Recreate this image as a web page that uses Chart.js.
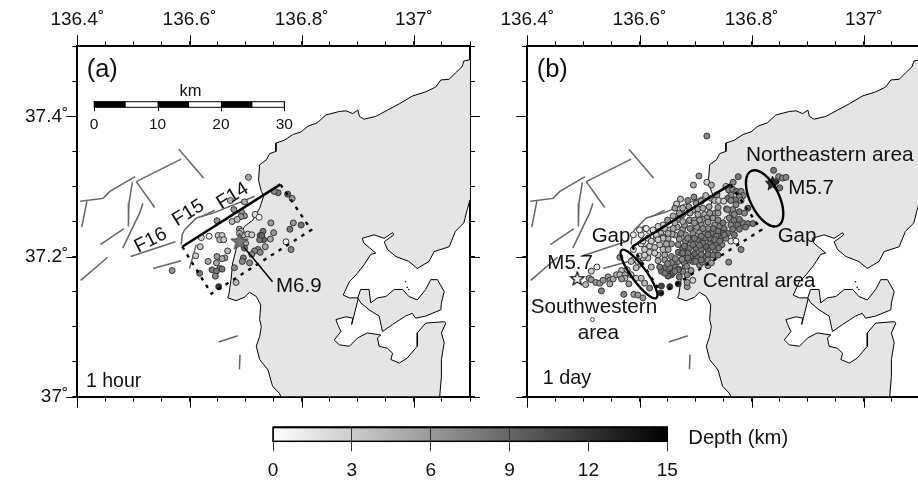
<!DOCTYPE html>
<html><head><meta charset="utf-8">
<style>html,body{margin:0;padding:0;background:#fff;overflow:hidden;width:918px;height:484px}
canvas{position:absolute}#w{position:absolute;left:0;top:0;width:918px;height:484px;overflow:hidden}</style>
<script src="https://cdn.jsdelivr.net/npm/chart.js@4/dist/chart.umd.min.js"></script>
</head><body><div id="w">
<canvas id="pa" width="480" height="430" style="left:0;top:0"></canvas>
<canvas id="pb" width="480" height="430" style="left:450px;top:0"></canvas>
<canvas id="cb" width="600" height="74" style="left:240px;top:410px"></canvas>
</div>
<script>
const lonTicks=[136.4,136.6,136.8,137];
const lonLabels=['136.4˚','136.6˚','136.8˚','137˚'];
const latTicks=[37,37.2,37.4];
const latLabels=['37˚','37.2˚','37.4˚'];
const depthTicks=[0,3,6,9,12,15];

const landLon=[137.1,137.089,137.086,137.074,137.063,137.048,137.039,137.021,136.997,136.974,136.953,136.932,136.911,136.903,136.900,136.891,136.879,136.867,136.843,136.828,136.811,136.799,136.784,136.769,136.754,136.754,136.743,136.737,136.725,136.723,136.728,136.732,136.725,136.713,136.698,136.692,136.683,136.677,136.674,136.670,136.668,136.683,136.698,136.707,136.719,136.727,136.725,136.728,136.725,136.719,136.725,136.740,136.748,136.760,136.763,137.046,137.049,137.049,137.054,137.049,137.057,137.054,137.021,137.006,137.006,136.988,136.974,136.959,136.962,136.953,136.938,136.935,136.941,136.917,136.900,136.885,136.867,136.858,136.870,136.864,136.861,136.879,136.891,136.889,136.892,136.898,136.901,136.885,136.874,136.885,136.897,136.911,136.923,136.932,136.911,136.908,136.929,136.947,136.962,136.964,136.947,136.953,136.968,136.991,137.006,137.027,137.036,137.063,137.074,137.089,137.095,137.1];
const landLat=[37.481,37.479,37.471,37.462,37.453,37.452,37.442,37.435,37.429,37.418,37.409,37.400,37.396,37.400,37.409,37.404,37.408,37.407,37.402,37.391,37.386,37.378,37.374,37.366,37.362,37.350,37.347,37.338,37.331,37.309,37.293,37.286,37.269,37.252,37.243,37.233,37.210,37.191,37.167,37.145,37.141,37.137,37.142,37.149,37.143,37.131,37.110,37.100,37.086,37.072,37.053,37.038,37.015,37.005,37.0,37.0,37.029,37.053,37.077,37.091,37.105,37.107,37.105,37.091,37.072,37.055,37.048,37.053,37.062,37.069,37.072,37.084,37.088,37.091,37.084,37.072,37.074,37.081,37.093,37.103,37.110,37.114,37.112,37.103,37.112,37.131,37.141,37.141,37.145,37.164,37.174,37.188,37.203,37.205,37.219,37.226,37.231,37.226,37.234,37.231,37.221,37.210,37.200,37.193,37.183,37.193,37.207,37.214,37.236,37.248,37.267,37.281];
const islandLon=[136.900,136.905,136.920,136.923,136.935,136.950,136.965,136.980,136.991,137.006,137.021,137.030,137.042,137.054,137.049,137.048,137.021,137.003,136.997,136.985,136.962,136.944,136.938,136.920,136.905];
const islandLat=[37.141,37.153,37.153,37.134,37.141,37.143,37.153,37.153,37.143,37.138,37.153,37.167,37.167,37.150,37.134,37.124,37.115,37.112,37.119,37.115,37.103,37.093,37.115,37.124,37.134];
const isletLon=[136.985,136.988,136.991];
const isletLat=[37.164,37.156,37.153];

const faultLons=[[136.405,136.446,136.458,136.503],[136.417,136.408],[136.505,136.585],[136.581,136.625],[136.498,136.492,136.491],[136.505,136.538],[136.517,136.511,136.481],[136.441,136.483],[136.406,136.454],[136.495,136.575],[136.535,136.585],[136.585,136.587,136.591,136.612,136.642,136.701,136.716],[136.621,136.645],[136.600,136.612],[136.652,136.686],[136.690,136.689]];
const faultLats=[[37.279,37.283,37.293,37.314],[37.279,37.242],[37.307,37.339],[37.353,37.312],[37.306,37.276,37.243],[37.307,37.270],[37.276,37.262,37.212],[37.217,37.240],[37.166,37.199],[37.200,37.221],[37.183,37.194],[37.217,37.231,37.238,37.255,37.262,37.281,37.286],[37.257,37.266],[37.183,37.217],[37.078,37.087],[37.060,37.039]];
const ruptureLon=[136.587,136.762];
const ruptureLat=[37.214,37.303];
const boxLon=[136.587,136.639,136.817,136.762];
const boxLat=[37.214,37.147,37.238,37.303];
const leaderLon=[136.689,136.748];
const leaderLat=[37.221,37.164];

const aLon=[136.705,136.673,136.698,136.679,136.693,136.698,136.692,136.717,136.724,136.649,136.676,136.685,136.689,136.745,136.785,136.799,136.779,136.621,136.635,136.651,136.658,136.654,136.661,136.619,136.611,136.696,136.704,136.711,136.692,136.731,136.726,136.732,136.725,136.729,136.750,136.744,136.735,136.772,136.781,136.758,136.751,136.775,136.783,136.668,136.663,136.649,136.658,136.633,136.648,136.640,136.654,136.658,136.648,136.646,136.618,136.652,136.683,136.569,136.700,136.698,136.680,136.696,136.694,136.707,136.722,136.716,136.726,136.711,136.689];
const aLat=[37.313,37.280,37.278,37.267,37.263,37.258,37.257,37.260,37.256,37.251,37.250,37.253,37.239,37.248,37.248,37.245,37.239,37.227,37.229,37.230,37.230,37.224,37.224,37.214,37.201,37.231,37.232,37.231,37.236,37.236,37.230,37.224,37.224,37.230,37.234,37.225,37.214,37.221,37.210,37.291,37.293,37.289,37.283,37.208,37.198,37.200,37.197,37.193,37.191,37.181,37.183,37.182,37.179,37.172,37.176,37.157,37.163,37.180,37.219,37.212,37.184,37.198,37.193,37.191,37.210,37.208,37.206,37.203,37.233];
const aDepth=[5,4,5,6,6,6,6,2,0,6,4,4,5,6,6,8,8,2,1,3,3,4,3,3,3,4,3,3,4,8,9,9,8,9,6,5,5,0,7,8,7,9,6,4,5,6,5,5,5,8,7,8,8,7,8,12,4,6,5,7,7,8,7,7,7,7,7,7,4];

const bLon=[136.720,136.706,136.696,136.720,136.728,136.776,136.767,136.754,136.759,136.766,136.773,136.781,136.785,136.778,136.763,136.771,136.757,136.781,136.763,136.772,136.793,136.673,136.666,136.686,136.697,136.663,136.677,136.688,136.701,136.710,136.718,136.728,136.738,136.734,136.741,136.750,136.695,136.704,136.713,136.724,136.677,136.688,136.704,136.716,136.669,136.650,136.642,136.633,136.654,136.645,136.638,136.618,136.603,136.589,136.720,136.731,136.722,136.710,136.734,136.756,136.743,136.763,136.751,136.775,136.784,136.793,136.802,136.766,136.778,136.789,136.667,136.677,136.690,136.702,136.682,136.695,136.707,136.716,136.728,136.740,136.749,136.757,136.769,136.737,136.725,136.716,136.746,136.754,136.763,136.772,136.671,136.663,136.651,136.657,136.669,136.682,136.692,136.704,136.713,136.725,136.737,136.747,136.677,136.689,136.701,136.710,136.722,136.734,136.781,136.759,136.603,136.618,136.627,136.636,136.648,136.609,136.618,136.633,136.645,136.633,136.645,136.657,136.669,136.680,136.692,136.704,136.716,136.722,136.707,136.695,136.680,136.669,136.657,136.645,136.654,136.639,136.651,136.657,136.671,136.685,136.692,136.677,136.651,136.639,136.654,136.669,136.685,136.695,136.685,136.621,136.615,136.606,136.600,136.589,136.594,136.565,136.674,136.686,136.698,136.710,136.722,136.734,136.743,136.751,136.680,136.695,136.707,136.719,136.730,136.741,136.686,136.698,136.710,136.722,136.675,136.664,136.676,136.688,136.700,136.712,136.664,136.650,136.636,136.660,136.645,136.670,136.684,136.700,136.690,136.712,136.680,136.658,136.642,136.630,136.625,136.610,136.660,136.690,136.740,136.755,136.765,136.760,136.768,136.778,136.735,136.725,136.588,136.597,136.585,136.524,136.514,136.510,136.504,136.514,136.522,136.529,136.535,136.544,136.547,136.553,136.559,136.568,136.565,136.578,136.574,136.532,136.547,136.574,136.581,136.572,136.590,136.597,136.606,136.568,136.585,136.594,136.603,136.609,136.618,136.638,136.839,136.848,136.855,136.861,136.850,136.843,136.834,136.606,136.615,136.630,136.621,136.642,136.633,136.627,136.609,136.642,136.651,136.651,136.660,136.624,136.612,136.600,136.663,136.677,136.689,136.698,136.671,136.707,136.740,136.766,136.778,136.787,136.769,136.757,136.740,136.749,136.731,136.722,136.713,136.698,136.677,136.686,136.710,136.722,136.731,136.740,136.728,136.669,136.663];
const bLat=[37.372,37.315,37.302,37.306,37.302,37.314,37.306,37.300,37.295,37.296,37.293,37.293,37.287,37.285,37.288,37.281,37.283,37.280,37.280,37.274,37.269,37.282,37.275,37.280,37.285,37.269,37.269,37.271,37.276,37.279,37.287,37.283,37.288,37.280,37.280,37.279,37.266,37.268,37.269,37.271,37.260,37.263,37.260,37.260,37.253,37.252,37.245,37.243,37.238,37.240,37.233,37.236,37.231,37.231,37.255,37.255,37.249,37.245,37.245,37.253,37.243,37.245,37.240,37.245,37.248,37.247,37.247,37.239,37.239,37.242,37.242,37.239,37.240,37.242,37.231,37.233,37.234,37.233,37.233,37.236,37.233,37.233,37.231,37.229,37.226,37.226,37.226,37.226,37.222,37.222,37.225,37.231,37.226,37.218,37.217,37.222,37.224,37.224,37.219,37.218,37.217,37.217,37.212,37.212,37.212,37.210,37.210,37.210,37.210,37.192,37.218,37.215,37.213,37.217,37.218,37.210,37.206,37.202,37.202,37.194,37.195,37.200,37.206,37.201,37.201,37.199,37.200,37.187,37.188,37.193,37.191,37.193,37.191,37.184,37.184,37.179,37.175,37.174,37.171,37.174,37.180,37.179,37.172,37.158,37.157,37.161,37.157,37.166,37.163,37.185,37.198,37.198,37.201,37.210,37.184,37.199,37.233,37.226,37.226,37.229,37.231,37.224,37.222,37.231,37.215,37.217,37.216,37.214,37.214,37.212,37.205,37.204,37.203,37.203,37.204,37.197,37.196,37.195,37.193,37.192,37.185,37.190,37.185,37.177,37.176,37.182,37.186,37.250,37.251,37.253,37.245,37.232,37.228,37.226,37.236,37.240,37.258,37.262,37.270,37.268,37.262,37.255,37.252,37.253,37.262,37.262,37.195,37.193,37.193,37.185,37.179,37.169,37.160,37.167,37.163,37.162,37.166,37.171,37.166,37.168,37.174,37.180,37.174,37.181,37.174,37.151,37.161,37.169,37.161,37.146,37.146,37.145,37.141,37.168,37.174,37.169,37.169,37.162,37.155,37.148,37.323,37.314,37.312,37.313,37.298,37.307,37.305,37.222,37.226,37.231,37.222,37.226,37.224,37.205,37.202,37.210,37.210,37.233,37.240,37.238,37.240,37.238,37.248,37.250,37.252,37.252,37.262,37.252,37.262,37.267,37.264,37.262,37.260,37.267,37.252,37.248,37.240,37.240,37.240,37.248,37.205,37.198,37.195,37.195,37.202,37.202,37.191,37.181,37.179];
const bDepth=[7,6,5,3,5,8,7,4,7,7,8,7,7,7,7,8,8,6,7,7,9,4,3,7,7,6,5,6,6,5,4,6,6,4,3,3,5,5,5,5,6,6,5,5,6,6,3,3,3,4,4,2,2,1,6,6,6,6,6,0,7,7,8,8,8,8,8,8,8,8,5,6,7,6,6,7,6,7,8,8,8,8,8,8,8,8,8,7,2,0,6,5,5,6,7,7,8,8,8,8,8,7,8,8,8,8,8,7,7,7,2,3,4,4,5,3,3,4,5,5,6,7,8,8,8,8,8,6,7,7,7,7,7,8,8,8,8,9,8,7,6,7,9,11,12,13,6,3,6,4,4,4,3,2,4,6,7,7,8,8,8,8,8,8,8,8,8,9,8,8,8,9,8,8,8,7,7,8,8,7,8,7,8,9,8,8,7,6,6,6,6,5,4,3,2,1,5,5,6,6,7,7,8,8,6,6,1,3,4,1,3,5,4,6,6,6,6,6,6,5,5,4,4,3,5,7,5,4,6,7,6,6,6,6,3,3,4,4,7,12,8,7,7,7,8,10,9,2,2,3,3,4,3,3,3,4,5,5,5,2,1,1,5,5,6,5,6,6,6,7,8,7,7,7,7,8,8,7,7,6,8,8,8,7,8,8,6,8,8];
const outlierLon=[136.516];
const outlierLat=[37.110];
const mainshockLon=[136.689];
const mainshockLat=[37.221];
const northStarLon=[136.837];
const northStarLat=[37.304];
const southStarLon=[136.489];
const southStarLat=[37.168];

const kmTicks=[0,10,20,30];
const kmSegments=[0,5,10,15,20,25,30];
const kmOriginLon=136.430, degPerKm=0.0113;

const FONT='"Liberation Sans", Arial, sans-serif';
const zip=(xs,ys)=>xs.map((x,i)=>({x:x,y:ys[i]}));
const grey=d=>{const v=Math.round(255*(1-d/15));return `rgb(${v},${v},${v})`;};
function starImg(R,fill,stroke,lw){
  const c=document.createElement('canvas');const s=Math.ceil(2*R+6);c.width=s;c.height=s;
  const g=c.getContext('2d');g.beginPath();
  for(let i=0;i<10;i++){const r=i%2?R*0.42:R;const t=-Math.PI/2+i*Math.PI/5;
    const x=s/2+r*Math.cos(t),y=s/2+r*Math.sin(t);i?g.lineTo(x,y):g.moveTo(x,y);}
  g.closePath();g.fillStyle=fill;g.fill();g.lineWidth=lw;g.strokeStyle=stroke;g.lineJoin='miter';g.stroke();return c;
}
const lineDs=(xs,ys,color,w,extra)=>Object.assign({data:zip(xs,ys),showLine:true,pointRadius:0,borderColor:color,borderWidth:w,tension:0,fill:false,order:5},extra||{});

function baseDatasets(){
  const ds=[
    lineDs(landLon,landLat,'#000',1,{fill:'shape',backgroundColor:'#e5e5e5',order:20}),
    lineDs(islandLon.concat(islandLon[0]),islandLat.concat(islandLat[0]),'#000',1,{fill:'shape',backgroundColor:'#e5e5e5',order:19}),
    {data:zip(isletLon,isletLat),pointRadius:0.8,pointBorderWidth:0,pointBackgroundColor:'#000',showLine:false,order:18}
  ];
  faultLons.forEach((f,i)=>ds.push(lineDs(f,faultLats[i],'#666',1.5,{order:15})));
  ds.push(lineDs(boxLon,boxLat,'#000',2.4,{borderDash:[3.5,5.5],order:3}));
  ds.push(lineDs(ruptureLon,ruptureLat,'#000',2.6,{order:2}));
  return ds;
}
const events=(xs,ys,ds)=>({data:zip(xs,ys),pointRadius:3,pointBorderWidth:1,pointBorderColor:'#333',pointBackgroundColor:ds.map(grey),showLine:false,order:4});
const star=(xs,ys,img,o)=>({data:zip(xs,ys),pointStyle:img,pointRadius:8,showLine:false,order:o||1});

const text=(g,t,x,y,size,opt)=>{opt=opt||{};g.save();g.font=size+'px '+FONT;g.fillStyle='#111';g.textAlign=opt.align||'left';g.textBaseline=opt.base||'alphabetic';g.translate(x,y);if(opt.rot)g.rotate(opt.rot*Math.PI/180);g.fillText(t,0,0);g.restore();};

const frameTicks={id:'frameTicks',afterDraw(c){
  const g=c.ctx,a=c.chartArea,X=c.scales.x,Y=c.scales.y;g.save();g.strokeStyle='#000';g.lineWidth=1;g.beginPath();
  lonTicks.forEach(v=>{const p=Math.round(X.getPixelForValue(v))+0.5;g.moveTo(p,a.top-11);g.lineTo(p,a.top);g.moveTo(p,a.bottom);g.lineTo(p,a.bottom+11);});
  latTicks.forEach(v=>{const p=Math.round(Y.getPixelForValue(v))+0.5;g.moveTo(a.left-11,p);g.lineTo(a.left,p);g.moveTo(a.right,p);g.lineTo(a.right+11,p);});
  g.stroke();g.restore();
}};
function mapOptions(showLat){
  const mk=(fix,extra)=>Object.assign({type:'linear',afterFit:fix},extra);
  const tickX=v=>{const i=lonTicks.findIndex(t=>Math.abs(t-v)<1e-6);return i<0?'':lonLabels[i];};
  const tickY=v=>{const i=latTicks.findIndex(t=>Math.abs(t-v)<1e-6);return (i<0||!showLat)?'':latLabels[i];};
  const gx={drawOnChartArea:false,drawTicks:true,tickLength:5,tickColor:'#000',tickWidth:1};
  const bd={display:true,width:2,color:'#000'};
  return {responsive:false,animation:false,devicePixelRatio:1,
   plugins:{legend:{display:false},tooltip:{enabled:false}},
   layout:{padding:0},
   scales:{
    x:mk(s=>{s.height=46.33;},{position:'top',min:136.4,max:137.1,border:bd,grid:gx,ticks:{stepSize:0.05,autoSkip:false,maxRotation:0,minRotation:0,padding:10,color:'#111',font:{family:FONT,size:19},callback:tickX}}),
    x2:mk(s=>{s.height=33.33;},{position:'bottom',min:136.4,max:137.1,border:bd,grid:gx,ticks:{stepSize:0.05,autoSkip:false,maxRotation:0,callback:()=>''}}),
    y:mk(s=>{s.width=77.33;},{position:'left',min:37,max:37.5,border:bd,grid:gx,ticks:{stepSize:0.05,autoSkip:false,padding:4,color:'#111',font:{family:FONT,size:19},callback:tickY}}),
    y2:mk(s=>{s.width=9.67;},{position:'right',min:37,max:37.5,border:bd,grid:gx,ticks:{stepSize:0.05,autoSkip:false,callback:()=>''}})
   }};
}
const zx=z=>60+z/3;
const panelA={id:'panelA',afterDraw(c){
  const g=c.ctx,X=c.scales.x,kx=k=>X.getPixelForValue(kmOriginLon+k*degPerKm);
  const top=101.7,h=5.6;
  g.save();
  for(let i=0;i<kmSegments.length-1;i++){g.fillStyle=i%2?'#fff':'#000';g.fillRect(kx(kmSegments[i]),top,kx(kmSegments[i+1])-kx(kmSegments[i]),h);}
  g.strokeStyle='#000';g.lineWidth=1;g.strokeRect(kx(0),top,kx(30)-kx(0),h);
  g.beginPath();kmTicks.forEach(k=>{const p=Math.round(kx(k))+0.5;g.moveTo(p,top);g.lineTo(p,top+9.5);});g.stroke();g.restore();
  kmTicks.forEach(k=>text(g,String(k),kx(k),129,15.5,{align:'center'}));
  text(g,'km',190.5,96,16.5,{align:'center'});
  text(g,'(a)',zx(80),76.5,25.5);
  text(g,'F14',zx(518),196,19.5,{align:'center',base:'middle',rot:-32});
  text(g,'F15',zx(385),213,19.5,{align:'center',base:'middle',rot:-32});
  text(g,'F16',zx(272),240.5,19.5,{align:'center',base:'middle',rot:-27});
  text(g,'M6.9',zx(648),292,20.5);
  text(g,'1 hour',zx(78),387,19.5);
}};
const ellipseLon=[136.823,136.599], ellipseLat=[37.283,37.175];
const panelB={id:'panelB',afterDatasetsDraw(c){
  const g=c.ctx,X=c.scales.x,Y=c.scales.y;
  g.save();g.strokeStyle='#000';g.lineWidth=2.4;
  [[30.5,14.5,63.9],[29.6,7.5,54]].forEach((e,i)=>{g.beginPath();g.ellipse(X.getPixelForValue(ellipseLon[i]),Y.getPixelForValue(ellipseLat[i]),e[0],e[1],e[2]*Math.PI/180,0,2*Math.PI);g.stroke();});
  g.restore();
  text(g,'(b)',zx(80),76.5,25.5);
  text(g,'Northeastern area',zx(708),161,20.8);
  text(g,'M5.7',zx(835),194,20.5);
  text(g,'Gap',zx(245),242.3,20.5);
  text(g,'Gap',zx(803),242.3,20.5);
  text(g,'M5.7',zx(112),269,20.5);
  text(g,'Central area',zx(578),287.3,20.5);
  text(g,'Southwestern',zx(62),313.3,20.7);
  text(g,'area',zx(203),339,20.7);
  text(g,'1 day',zx(98),384,19.8);
}};

new Chart(document.getElementById('pa'),{type:'scatter',
  data:{datasets:baseDatasets().concat([
    lineDs(leaderLon,leaderLat,'#000',1.5,{order:3}),
    events(aLon,aLat,aDepth),
    star(mainshockLon,mainshockLat,starImg(9,'#777','#333',1),1)
  ])},options:mapOptions(true),plugins:[frameTicks,panelA]});

new Chart(document.getElementById('pb'),{type:'scatter',
  data:{datasets:baseDatasets().concat([
    events(bLon,bLat,bDepth),
    {data:zip(outlierLon,outlierLat),pointRadius:2,pointBorderWidth:0.9,pointBorderColor:'#333',pointBackgroundColor:'#fff',showLine:false,order:4},
    star(northStarLon,northStarLat,starImg(7.5,'#333','#111',1),1),
    star(southStarLon,southStarLat,starImg(7,'#fff','#000',1.2),1)
  ])},options:mapOptions(false),plugins:[frameTicks,panelB]});

const cbExtras={id:'cbExtras',afterDraw(c){
  const g=c.ctx,a=c.chartArea;g.save();g.strokeStyle='#000';g.lineWidth=1.5;g.strokeRect(a.left,a.top,a.right-a.left,a.bottom-a.top);g.fillStyle='#000';g.fillRect(a.left,a.top-1,a.right-a.left,2);g.restore();
  text(g,'Depth (km)',448.3,34,20.2);
}};
new Chart(document.getElementById('cb'),{type:'bar',
  data:{labels:['Depth'],datasets:[{data:[[depthTicks[0],depthTicks[depthTicks.length-1]]],barPercentage:1,categoryPercentage:1,borderSkipped:false,
    backgroundColor(ctx){const a=ctx.chart.chartArea;if(!a)return '#888';const gr=ctx.chart.ctx.createLinearGradient(a.left,0,a.right,0);gr.addColorStop(0,'#fff');gr.addColorStop(1,'#000');return gr;}}]},
  options:{indexAxis:'y',responsive:false,animation:false,devicePixelRatio:1,
    layout:{padding:{left:33,right:172.7,top:17.3,bottom:0}},
    plugins:{legend:{display:false},tooltip:{enabled:false}},
    scales:{y:{display:false},
      x:{type:'linear',position:'bottom',min:0,max:15,afterFit:s=>{s.height=42.7;},
        border:{display:false},grid:{color:'#333',lineWidth:1,tickLength:10,tickColor:'#333',z:1},
        ticks:{stepSize:3,padding:8,maxRotation:0,color:'#111',font:{family:FONT,size:19}}}}},
  plugins:[cbExtras]});
</script></body></html>
